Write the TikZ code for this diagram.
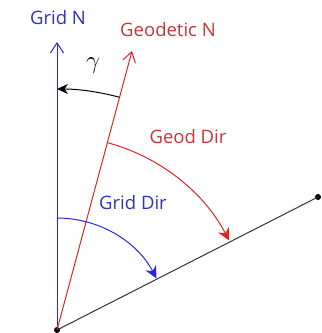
\documentclass[tikz,border=0pt]{standalone}
\usepackage{fontspec}
\setmainfont{Open Sans}
\usetikzlibrary{arrows.meta}
\definecolor{gridblue}{RGB}{40,40,225}
\definecolor{gridtext}{RGB}{50,50,185}
\definecolor{geored}{RGB}{225,35,35}
\definecolor{geotext}{RGB}{195,55,55}
\begin{document}
\begin{tikzpicture}[
        x=1pt, y=1pt,
        >={Stealth[length=12pt,width=12pt]},
        lbl/.style={
            font=\fontsize{18.5}{21}\selectfont,
            inner sep=0pt
        },
        dot/.style={circle, fill=black, inner sep=0pt, minimum size=6pt},
        northarrow/.style={-{Straight Barb[length=10pt,width=13pt]}, line width=1pt},
        sweep/.style={->, line width=1pt}
    ]
    \useasboundingbox (0,0) rectangle (322,333);

    \node[dot] (o) at (57,3) {};
    \node[dot] (e) at (318,136) {};
    \coordinate (gridtip) at (57,291);
    \coordinate (geotip) at (132,282);

    \draw[northarrow, gridblue] (o.center) -- (gridtip);
    \draw[northarrow, geored] (o.center) -- (geotip);
    \draw[line width=1pt, black!80] (o.center) -- (e.center);

    \node[lbl, text=gridtext] (gridn) at (58,315) {Grid N};
    \node[lbl, text=geotext] (geon) at (168,303) {Geodetic N};
    \node[lbl, font=\fontsize{24}{24}\selectfont] (gamma) at (93,267) {$\gamma$};
    \node[lbl, text=geotext] (geoddir) at (188,196) {Geod Dir};
    \node[lbl, text=gridtext] (griddir) at (133,130) {Grid Dir};

    % angle sweeps
    \draw[sweep, gridblue] (o.center) ++(90:112) arc[start angle=90, end angle=27.5, radius=112];
    \draw[sweep, geored] (o.center) ++(75:194) arc[start angle=75, end angle=27.5, radius=194];
    \draw[sweep, black, >={Stealth[length=11pt,width=10pt]}] (o.center) ++(75:241) arc[start angle=75, end angle=90, radius=241];

\end{tikzpicture}
\end{document}
